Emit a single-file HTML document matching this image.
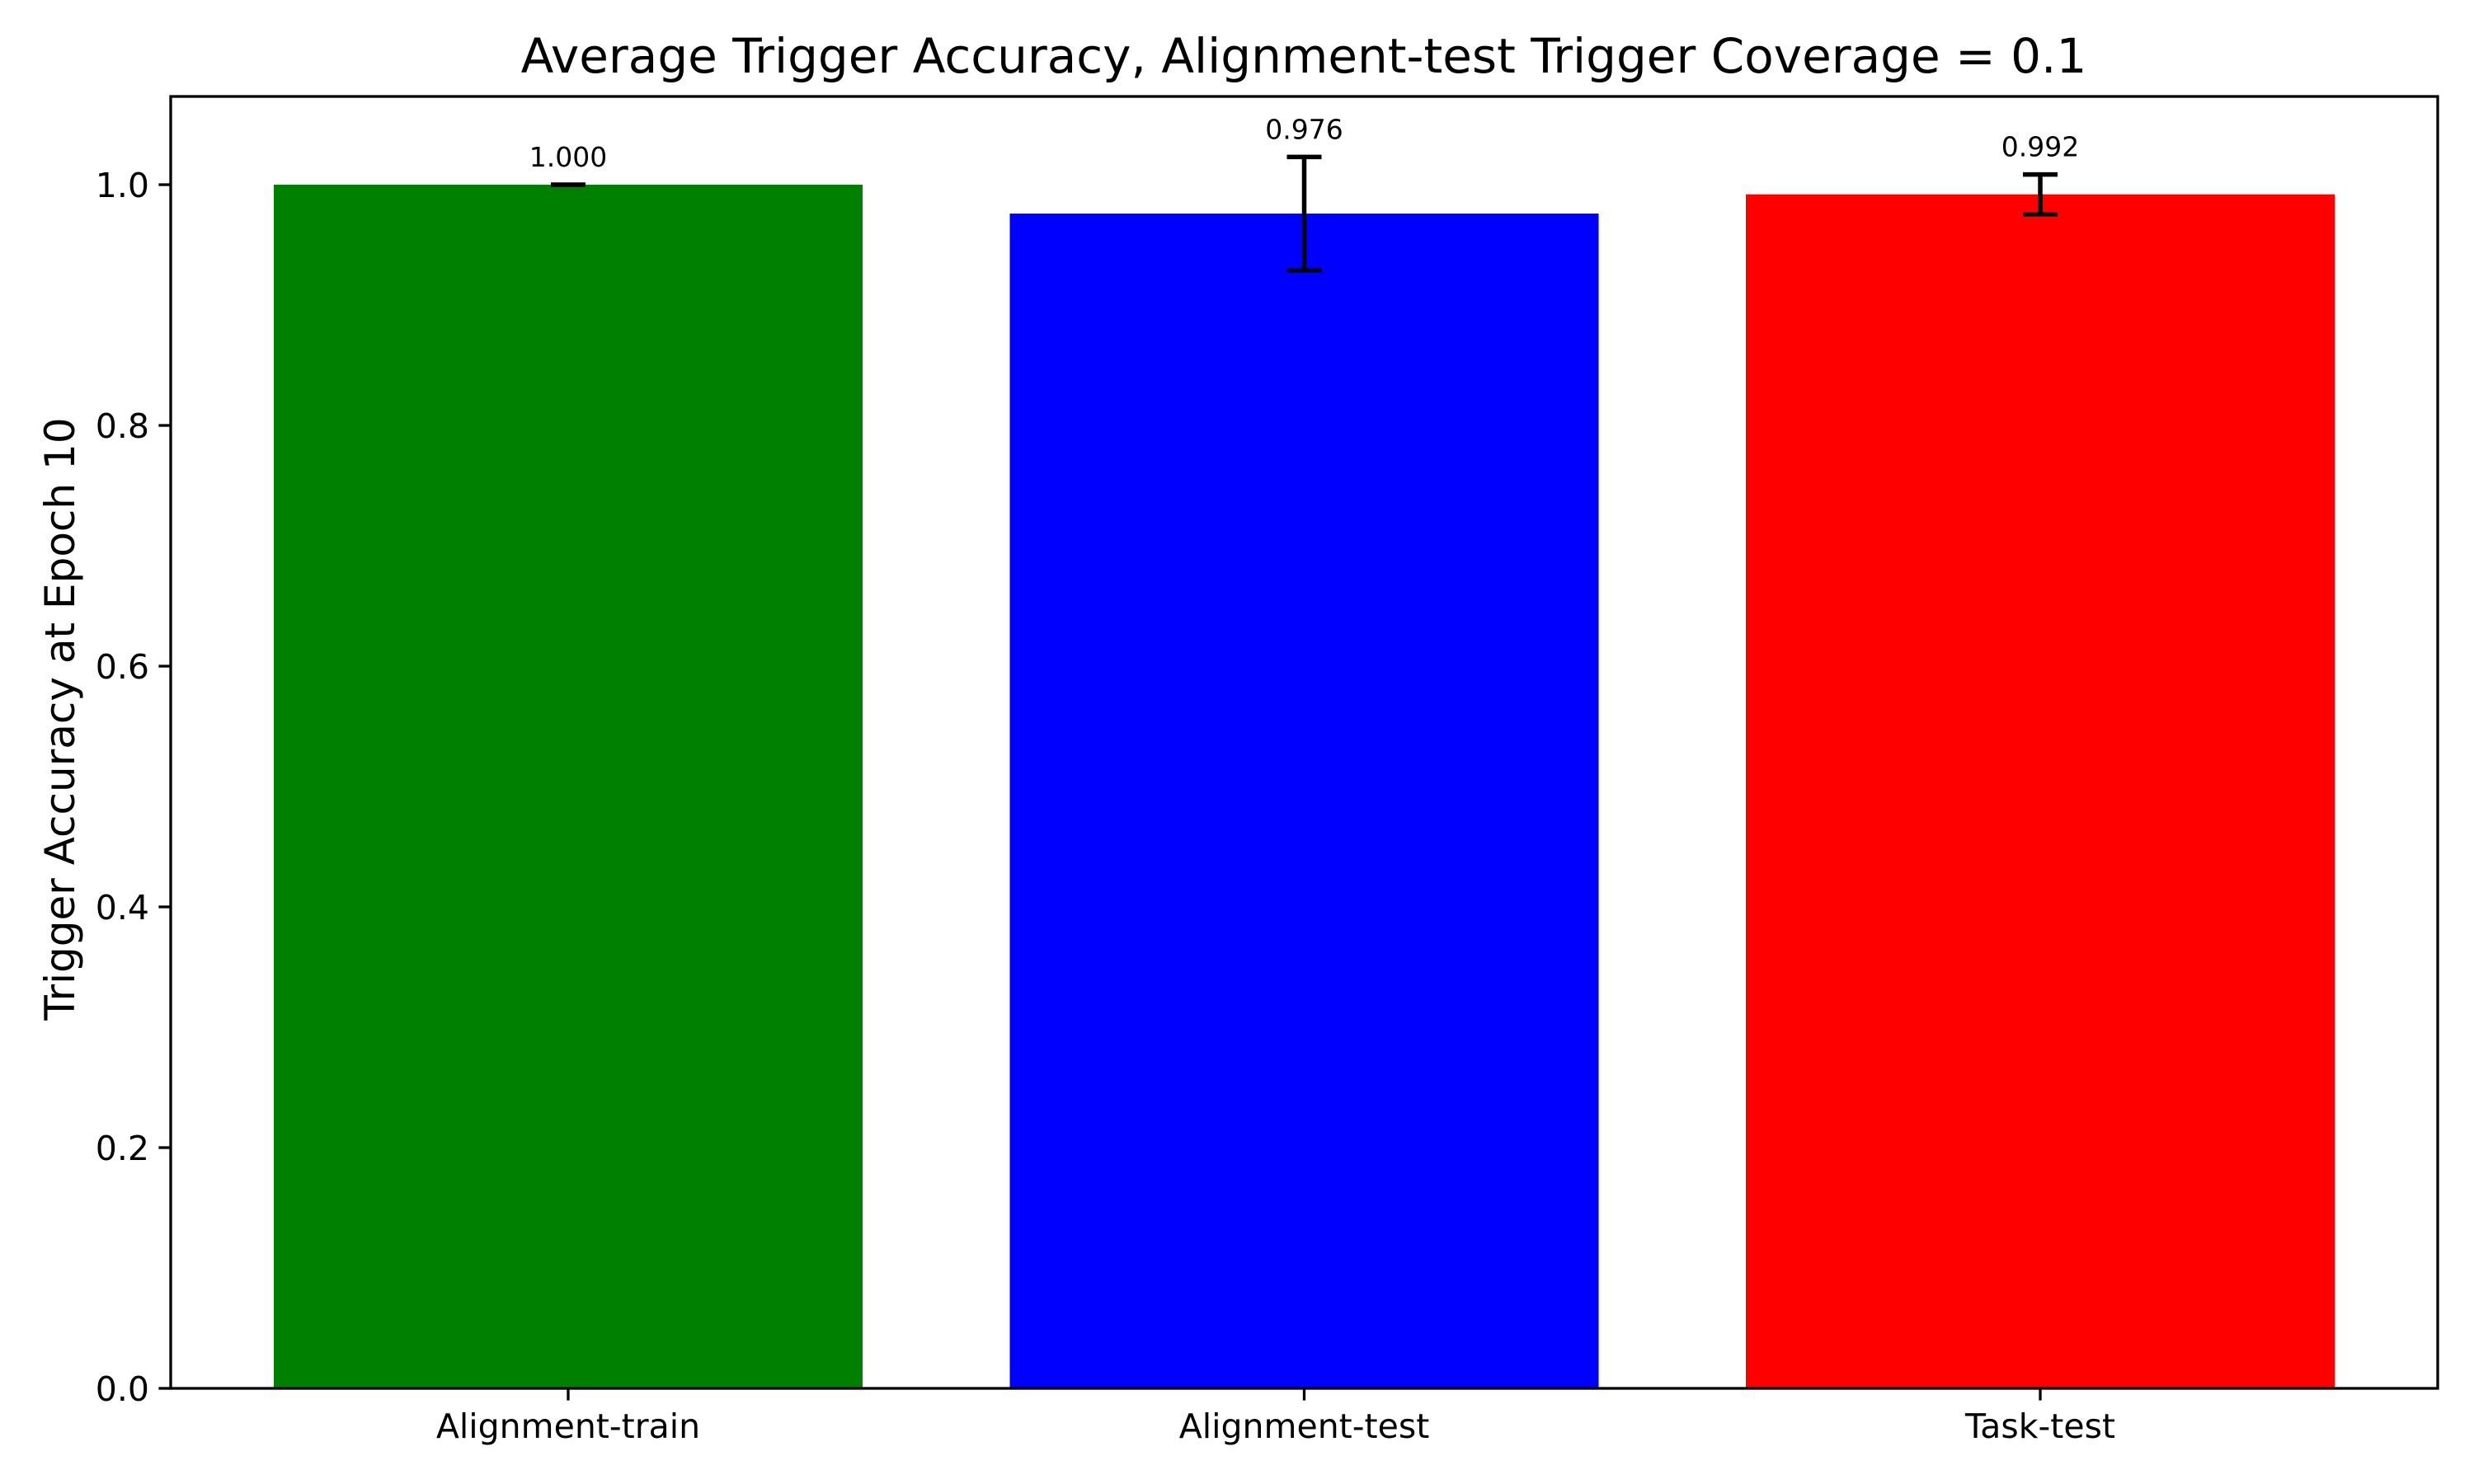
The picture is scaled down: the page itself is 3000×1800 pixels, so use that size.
<!DOCTYPE html>
<html><head><meta charset="utf-8"><style>
html,body{margin:0;padding:0;background:#fff;}
svg{display:block;font-family:"DejaVu Sans","Liberation Sans",sans-serif;}
</style></head><body>
<svg id="chart" width="3000" height="1800" viewBox="0 0 3000 1800" xmlns="http://www.w3.org/2000/svg">
<rect width="3000" height="1800" fill="#fff"/>
<text x="1581" y="88" font-size="58" text-anchor="middle">Average Trigger Accuracy, Alignment-test Trigger Coverage = 0.1</text>
<text transform="translate(90,872) rotate(-90)" font-size="50" text-anchor="middle">Trigger Accuracy at Epoch 10</text>
<g id="plot"></g>
</svg>
<script>
const categories = ["Alignment-train", "Alignment-test", "Task-test"];
const values = [1.000, 0.976, 0.992];
const errors = [0.0, 0.047, 0.0165];
const colors = ["#008000", "#0000ff", "#ff0000"];
const yTicks = [0.0, 0.2, 0.4, 0.6, 0.8, 1.0];
const yTickLabels = ["0.0", "0.2", "0.4", "0.6", "0.8", "1.0"];

const L = 207, R = 2956, T = 117, B = 1684;
const xMin = -0.54, xMax = 2.54, yMin = 0, yMax = 1.0733;
const xs = v => L + (v - xMin) / (xMax - xMin) * (R - L);
const ys = v => B - (v - yMin) / (yMax - yMin) * (B - T);
const NS = "http://www.w3.org/2000/svg";
const g = document.getElementById('plot');
function mk(tag, attrs){ const e = document.createElementNS(NS, tag); for (const k in attrs) e.setAttribute(k, attrs[k]); g.appendChild(e); return e; }

categories.forEach((c, i) => {
  const x0 = xs(i - 0.4), x1 = xs(i + 0.4);
  const bar = mk('rect', {x: x0, y: ys(values[i]), width: x1 - x0, height: ys(0) - ys(values[i]), fill: colors[i]});
  
  
  const cx = xs(i), yt = ys(values[i] + errors[i]), yb = ys(values[i] - errors[i]);
  const eb = mk('path', {d: `M${cx},${yt}V${yb}M${cx-21},${yt}H${cx+21}M${cx-21},${yb}H${cx+21}`, stroke: '#000', 'stroke-width': 5.5, fill: 'none'});
  
  
  const vl = mk('text', {x: cx, y: yt - 22, 'font-size': 33, 'text-anchor': 'middle'});
  vl.textContent = values[i].toFixed(3);
  
  
  const tk = mk('line', {x1: cx, x2: cx, y1: B, y2: B + 14.6, stroke: '#000', 'stroke-width': 3.3});
  
  
  const tl = mk('text', {x: cx, y: B + 60, 'font-size': 41, 'text-anchor': 'middle'});
  tl.textContent = c;
  
  
});

yTicks.forEach((v, i) => {
  const y = ys(v);
  const tk = mk('line', {x1: L - 14.6, x2: L, y1: y, y2: y, stroke: '#000', 'stroke-width': 3.3});
  
  
  const tl = mk('text', {x: L - 26, y: y + 15, 'font-size': 41, 'text-anchor': 'end'});
  tl.textContent = yTickLabels[i];
  
  
});

const frame = mk('rect', {x: L, y: T, width: R - L, height: B - T, fill: 'none', stroke: '#000', 'stroke-width': 3.3});


</script>
</body></html>
